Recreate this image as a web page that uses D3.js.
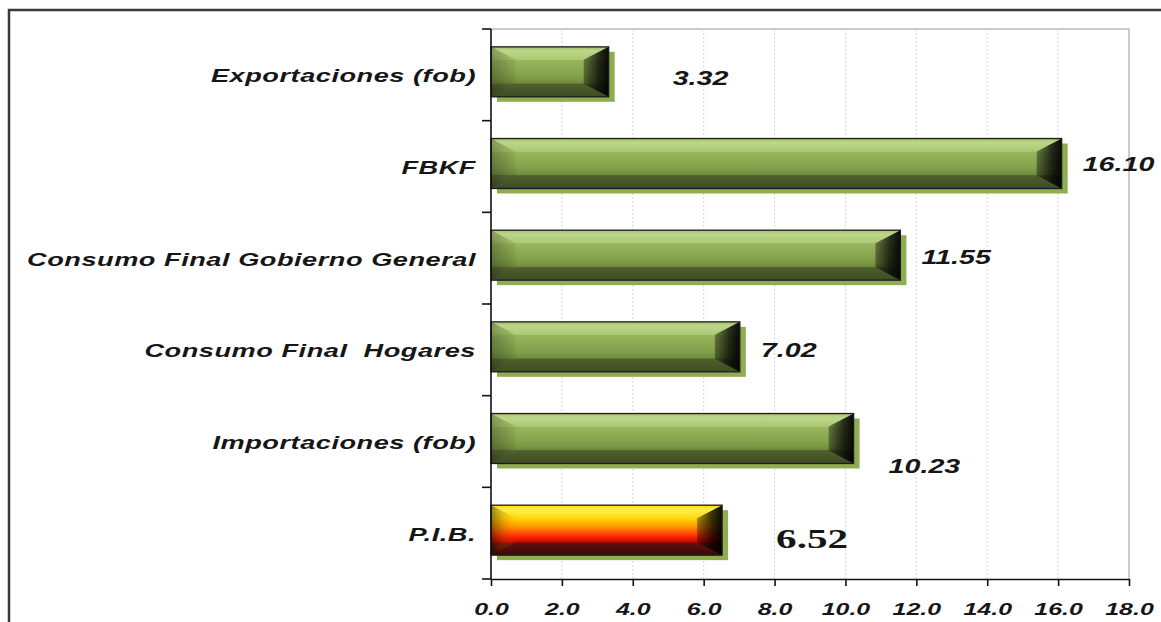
<!DOCTYPE html>
<html>
<head>
<meta charset="utf-8">
<script src="https://cdn.jsdelivr.net/npm/d3@7"></script>
<style>
  html, body { margin: 0; padding: 0; background: #ffffff; }
  svg { display: block; }
  .lbl { font-family: "Liberation Sans", Arial, sans-serif; font-weight: bold; font-style: italic; fill: #161616; white-space: pre; }
</style>
</head>
<body>
<svg id="chart" width="1161" height="622"></svg>
<script>
// Tasas de crecimiento por componente del gasto (%)
const categories = [
  "Exportaciones (fob)",
  "FBKF",
  "Consumo Final Gobierno General",
  "Consumo Final  Hogares",
  "Importaciones (fob)",
  "P.I.B."
];
const values = [3.32, 16.10, 11.55, 7.02, 10.23, 6.52];
const valueLabels = ["3.32", "16.10", "11.55", "7.02", "10.23", "6.52"];
const xTicks = [0, 2, 4, 6, 8, 10, 12, 14, 16, 18];
const highlighted = "P.I.B.";

// hand-placed label nudges (pixels) relative to the bar end / row centre
const labelNudgeX = [64, 21, 21, 21, 35, 54];
const labelNudgeY = [3, -3, -1, 0, 24, 5];

const STRETCH = 1.47; // horizontal text stretch

const svg = d3.select("#chart");
const plot = { left: 491, right: 1129, top: 29, bottom: 579 };

const x = d3.scaleLinear().domain([0, 18]).range([plot.left, plot.right]);
const y = d3.scaleBand().domain(categories).range([plot.top, plot.bottom]).padding(0);
const barH = y.bandwidth() * 0.545;

// ---- gradients ----
const defs = svg.append("defs");
function grad(id, horizontal, stops) {
  const g = defs.append("linearGradient").attr("id", id)
    .attr("x1", 0).attr("y1", 0).attr("x2", horizontal ? 1 : 0).attr("y2", horizontal ? 0 : 1);
  stops.forEach(s => g.append("stop").attr("offset", s[0]).attr("stop-color", s[1])
    .attr("stop-opacity", s[2] == null ? 1 : s[2]));
}
grad("greenBase", false, [
  [0, "#9cbc5e"], [0.08, "#b8d47f"], [0.26, "#a6c46a"], [0.27, "#98b75c"],
  [0.6, "#819f4a"], [0.73, "#6f8a3d"], [0.74, "#5a6d32"], [1, "#48572a"]
]);
grad("pibBase", false, [
  [0, "#ffd800"], [0.1, "#fff03a"], [0.28, "#ffd200"], [0.45, "#ff8c00"],
  [0.62, "#ff2a00"], [0.74, "#c80800"], [0.76, "#6e1410"], [1, "#3e0a0a"]
]);
grad("leftFacet", true, [[0, "#000", 0.28], [1, "#000", 0.04]]);
grad("rightFacet", true, [[0, "#000", 0.35], [0.6, "#000", 0.78], [1, "#000", 0.95]]);
grad("pibLeft", true, [[0, "#000", 0.45], [1, "#ff7a00", 0.0]]);

// ---- outer frame ----
svg.append("rect")
  .attr("x", 9).attr("y", 10).attr("width", 1200).attr("height", 700)
  .attr("fill", "none").attr("stroke", "#3a3a3a").attr("stroke-width", 2.5);

// ---- grid ----
svg.append("g").selectAll("line").data(xTicks.filter(t => t > 0 && t < 18)).join("line")
  .attr("x1", d => x(d)).attr("x2", d => x(d))
  .attr("y1", plot.top).attr("y2", plot.bottom)
  .attr("stroke", "#d3dcef").attr("stroke-width", 1.2).attr("stroke-dasharray", "2,2");
// plot border top / right
svg.append("path")
  .attr("d", `M${x(0)},${plot.top}H${x(18)}V${plot.bottom}`)
  .attr("fill", "none").attr("stroke", "#cbcbcb").attr("stroke-width", 2);

// ---- bars ----
const bars = svg.append("g").selectAll("g").data(categories).join("g")
  .attr("transform", (c, i) => `translate(${x(0)},${y(c) + (y.bandwidth() - barH) / 2 - 3})`);

bars.each(function (c, i) {
  const g = d3.select(this);
  const w = x(values[i]) - x(0);
  const h = barH;
  const bx = 25, by = 13;
  const pib = c === highlighted;
  // drop shadow
  g.append("rect").attr("x", 6).attr("y", 5).attr("width", w).attr("height", h)
    .attr("fill", "#8eac50");
  g.append("rect").attr("x", 0).attr("y", 0).attr("width", w).attr("height", h)
    .attr("fill", pib ? "url(#pibBase)" : "url(#greenBase)");
  // left bevel
  g.append("polygon").attr("points", `0,0 ${bx},${by} ${bx},${h - by} 0,${h}`)
    .attr("fill", pib ? "url(#pibLeft)" : "url(#leftFacet)");
  // right bevel
  g.append("polygon").attr("points", `${w},0 ${w - bx},${by} ${w - bx},${h - by} ${w},${h}`)
    .attr("fill", "url(#rightFacet)");
  // top / bottom facet shading
  g.append("polygon").attr("points", `0,0 ${w},0 ${w - bx},${by} ${bx},${by}`)
    .attr("fill", "#fff").attr("fill-opacity", pib ? 0.05 : 0.08);
  g.append("polygon").attr("points", `0,${h} ${w},${h} ${w - bx},${h - by} ${bx},${h - by}`)
    .attr("fill", "#000").attr("fill-opacity", 0.12);
  g.append("rect").attr("x", 0).attr("y", 0).attr("width", w).attr("height", h)
    .attr("fill", "none").attr("stroke", "#1c1c1c").attr("stroke-width", 1.3);
});

// ---- axes ----
const xAxis = svg.append("g").attr("transform", `translate(0,${plot.bottom})`)
  .call(d3.axisBottom(x).tickValues(xTicks).tickFormat(d3.format(".1f")).tickSize(7).tickSizeOuter(0));
xAxis.select(".domain").attr("stroke", "#111").attr("stroke-width", 1.6);
xAxis.selectAll(".tick line").attr("stroke", "#111").attr("stroke-width", 1.6);
xAxis.selectAll(".tick text")
  .attr("class", "lbl").attr("y", 0).attr("dy", 0)
  .attr("transform", `translate(0,36) scale(${STRETCH},1)`)
  .style("font-size", "17px");

// y axis line and row boundary ticks
const bounds = categories.map(c => y(c)).concat([plot.bottom]);
svg.append("line").attr("x1", x(0)).attr("x2", x(0)).attr("y1", plot.top).attr("y2", plot.bottom)
  .attr("stroke", "#111").attr("stroke-width", 1.6);
svg.append("g").selectAll("line").data(bounds).join("line")
  .attr("x1", x(0) - 9).attr("x2", x(0)).attr("y1", d => d).attr("y2", d => d)
  .attr("stroke", "#111").attr("stroke-width", 1.6);

// category labels
svg.append("g").selectAll("g").data(categories).join("g")
  .attr("transform", c => `translate(476,${y(c) + y.bandwidth() / 2 + 1}) scale(${STRETCH},1)`)
  .append("text").attr("class", "lbl")
  .attr("text-anchor", "end").attr("dy", "0.36em")
  .style("font-size", "18.5px").style("letter-spacing", "0.35px")
  .text(c => c);

// value labels
svg.append("g").selectAll("g").data(categories).join("g")
  .attr("transform", (c, i) => `translate(${x(values[i]) + labelNudgeX[i]},${y(c) + y.bandwidth() / 2 + labelNudgeY[i]}) scale(${STRETCH},1)`)
  .append("text")
  .attr("class", c => c === highlighted ? null : "lbl")
  .attr("dy", "0.36em")
  .style("font-family", c => c === highlighted ? "'Liberation Serif', 'Times New Roman', serif" : null)
  .style("font-weight", "bold")
  .style("font-size", c => c === highlighted ? "28px" : "19.5px")
  .style("fill", "#161616")
  .text((c, i) => valueLabels[i]);
</script>
</body>
</html>
